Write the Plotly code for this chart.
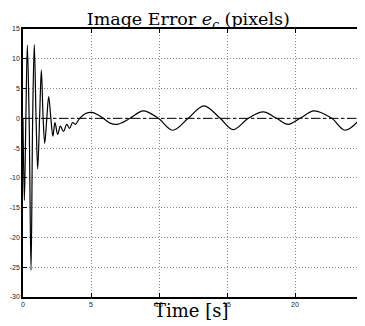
import plotly.graph_objects as go

# Time samples (s) and image error e_c (pixels)
time_s = [0.0, 0.1, 0.21, 0.32, 0.45, 0.59, 0.71, 0.83, 0.96, 1.08, 1.22, 1.35, 1.48,
          1.6, 1.75, 1.89, 2.05, 2.2, 2.35, 2.55, 2.75, 2.98, 3.22, 3.42, 3.65, 3.85,
          4.17, 4.6, 5.05, 5.5, 5.9, 6.4, 6.93, 7.4, 7.87, 8.85, 9.95, 11.0, 12.15,
          13.3, 14.5, 15.46, 16.57, 17.67, 18.65, 19.5, 20.37, 21.4, 22.7, 23.68, 25.0]
error_px = [0.0, -13.8, 0.0, 12.3, 0.0, -25.5, 0.0, 12.4, 0.0, -8.5, 0.0, 8.1, 0.0,
            -4.2, 0.0, 3.65, 0.0, -3.0, -0.7, -2.7, -1.3, -2.2, -1.0, -1.7, -0.7, -1.0,
            0.0, 0.8, 1.0, 0.6, 0.0, -0.8, -1.0, -0.6, 0.0, 1.25, 0.0, -2.0, 0.0,
            2.1, 0.0, -1.9, 0.0, 1.07, 0.0, -1.0, 0.0, 1.25, 0.0, -2.0, 0.4]

x_ticks = [0, 5, 10, 15, 20, 25]
y_ticks = [-30, -25, -20, -15, -10, -5, 0, 5, 10, 15]
reference_level = 0

fig = go.Figure()
fig.add_trace(go.Scatter(x=time_s, y=error_px, mode="lines",
                         line=dict(color="black", width=1.2, shape="spline", smoothing=1.0),
                         showlegend=False, hoverinfo="skip"))
fig.add_hline(y=reference_level, line=dict(color="black", width=1, dash="dashdot"))

axis_common = dict(showline=True, linecolor="black", linewidth=1.5, mirror="ticks",
                   ticks="inside", ticklen=4, tickcolor="black", tickwidth=1,
                   showgrid=True, gridcolor="#8a8a8a", gridwidth=1, griddash="1px,2px",
                   zeroline=False, automargin=False,
                   tickfont=dict(family="Liberation Sans", size=7, color="#222"))

fig.update_xaxes(range=[0, 25], tickvals=x_ticks, ticktext=[str(v) for v in x_ticks],
                 **axis_common)
fig.update_yaxes(range=[-30, 15], tickvals=y_ticks, ticktext=[str(v) for v in y_ticks],
                 **axis_common)

# the page body adds an 8px margin, so the figure is sized to the remaining space
fig.update_layout(
    width=357, height=318,
    margin=dict(l=15, r=2, t=21, b=29),
    plot_bgcolor="white", paper_bgcolor="white",
    title=dict(text="Image Error <i>e</i><sub><i>c</i></sub> (pixels)",
               font=dict(family="DejaVu Serif", size=17.5, color="black"),
               x=0.505, xanchor="center", y=0.965, yanchor="middle", automargin=False),
    annotations=[dict(text="Time [s]", xref="paper", yref="paper", x=0.497, y=-0.052,
                      xanchor="center", yanchor="middle", showarrow=False,
                      font=dict(family="DejaVu Serif", size=18, color="black"))],
)

fig.write_html("out.html")
